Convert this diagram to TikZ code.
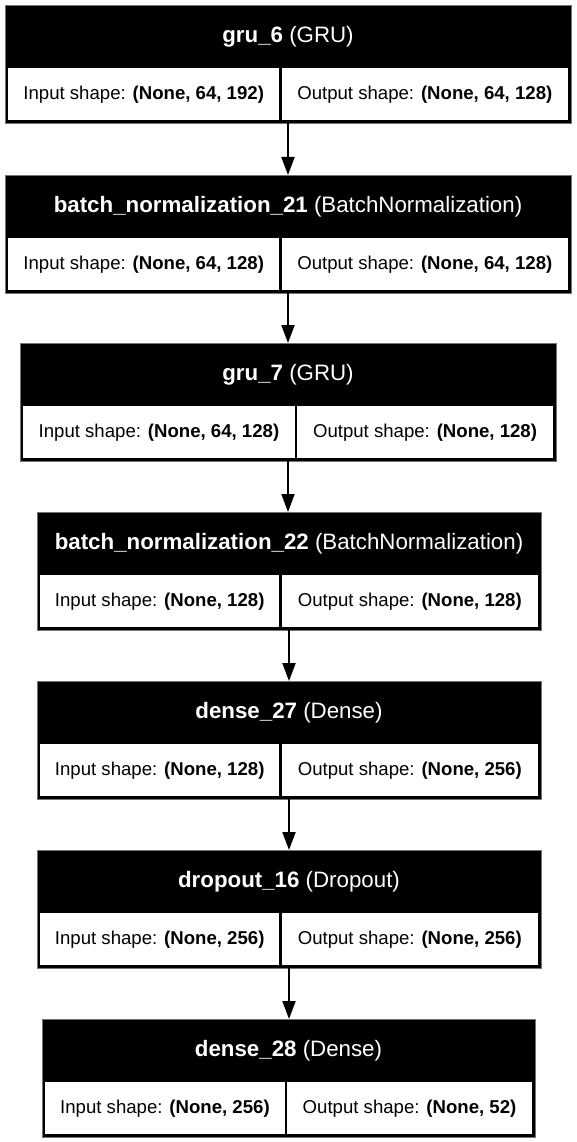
\documentclass[tikz,border=0pt]{standalone}
\usepackage{fontspec}
\setmainfont{Liberation Sans}
\usetikzlibrary{positioning,arrows.meta}
\newcommand{\headfont}{\fontsize{22.3}{24}\selectfont}
\newcommand{\cellfont}{\fontsize{18.6}{20}\selectfont}

\begin{document}
\begin{tikzpicture}[%
    x=1pt, y=-1pt,                         % pixel grid, top-down
    >={Triangle[length=18pt, width=13pt]},
    ]
\tikzset{
  layer/.style={fill=black, draw=black!55, line width=0.5pt, anchor=north west,
                minimum height=118pt, inner sep=0pt, outer sep=0pt},
  head/.style={text=white, font=\headfont, inner sep=0pt},
  cell/.style={fill=white, minimum height=52pt, inner sep=0pt, font=\cellfont},
  incell/.style={cell, anchor=north west},
  outcell/.style={cell, anchor=north east},
  flow/.style={->, line width=2pt},
}
\fill [white] (0,0) rectangle (577,1142);
\useasboundingbox (0,0) rectangle (577,1142);

% layers
\node [layer, minimum width=566pt] (gru6) at (5,5) {};
\node [head] (gru6h) at ([yshift=-31.5pt]gru6.north) {\textbf{gru\_6} (GRU)};
\node [incell, minimum width=271pt] (gru6in) at ([shift={(3pt,-63pt)}]gru6.north west) {Input shape: \textbf{(None, 64, 192)}};
\node [outcell, minimum width=286pt] (gru6out) at ([shift={(-3pt,-63pt)}]gru6.north east) {Output shape: \textbf{(None, 64, 128)}};

\node [layer, minimum width=566pt] (bn21) at (5,175) {};
\node [head] (bn21h) at ([yshift=-31.5pt]bn21.north) {\textbf{batch\_normalization\_21} (BatchNormalization)};
\node [incell, minimum width=271pt] (bn21in) at ([shift={(3pt,-63pt)}]bn21.north west) {Input shape: \textbf{(None, 64, 128)}};
\node [outcell, minimum width=286pt] (bn21out) at ([shift={(-3pt,-63pt)}]bn21.north east) {Output shape: \textbf{(None, 64, 128)}};

\node [layer, minimum width=536pt] (gru7) at (20,343) {};
\node [head] (gru7h) at ([yshift=-31.5pt]gru7.north) {\textbf{gru\_7} (GRU)};
\node [incell, minimum width=271.5pt] (gru7in) at ([shift={(3pt,-63pt)}]gru7.north west) {Input shape: \textbf{(None, 64, 128)}};
\node [outcell, minimum width=255.5pt] (gru7out) at ([shift={(-3pt,-63pt)}]gru7.north east) {Output shape: \textbf{(None, 128)}};

\node [layer, minimum width=504pt] (bn22) at (37,512) {};
\node [head] (bn22h) at ([yshift=-31.5pt]bn22.north) {\textbf{batch\_normalization\_22} (BatchNormalization)};
\node [incell, minimum width=239pt] (bn22in) at ([shift={(3pt,-63pt)}]bn22.north west) {Input shape: \textbf{(None, 128)}};
\node [outcell, minimum width=256pt] (bn22out) at ([shift={(-3pt,-63pt)}]bn22.north east) {Output shape: \textbf{(None, 128)}};

\node [layer, minimum width=504pt] (dense27) at (37,681) {};
\node [head] (dense27h) at ([yshift=-31.5pt]dense27.north) {\textbf{dense\_27} (Dense)};
\node [incell, minimum width=239pt] (dense27in) at ([shift={(3pt,-63pt)}]dense27.north west) {Input shape: \textbf{(None, 128)}};
\node [outcell, minimum width=256pt] (dense27out) at ([shift={(-3pt,-63pt)}]dense27.north east) {Output shape: \textbf{(None, 256)}};

\node [layer, minimum width=504pt] (drop16) at (37,850) {};
\node [head] (drop16h) at ([yshift=-31.5pt]drop16.north) {\textbf{dropout\_16} (Dropout)};
\node [incell, minimum width=239pt] (drop16in) at ([shift={(3pt,-63pt)}]drop16.north west) {Input shape: \textbf{(None, 256)}};
\node [outcell, minimum width=256pt] (drop16out) at ([shift={(-3pt,-63pt)}]drop16.north east) {Output shape: \textbf{(None, 256)}};

\node [layer, minimum width=493pt] (dense28) at (42,1019) {};
\node [head] (dense28h) at ([yshift=-31.5pt]dense28.north) {\textbf{dense\_28} (Dense)};
\node [incell, minimum width=239.5pt] (dense28in) at ([shift={(3pt,-63pt)}]dense28.north west) {Input shape: \textbf{(None, 256)}};
\node [outcell, minimum width=244.5pt] (dense28out) at ([shift={(-3pt,-63pt)}]dense28.north east) {Output shape: \textbf{(None, 52)}};

%connect
\draw [flow] (gru6.south) -- (gru6.south |- bn21.north);
\draw [flow] (bn21.south) -- (bn21.south |- gru7.north);
\draw [flow] (gru7.south) -- (gru7.south |- bn22.north);
\draw [flow] (bn22.south) -- (bn22.south |- dense27.north);
\draw [flow] (dense27.south) -- (dense27.south |- drop16.north);
\draw [flow] (drop16.south) -- (drop16.south |- dense28.north);

\end{tikzpicture}
\end{document}
